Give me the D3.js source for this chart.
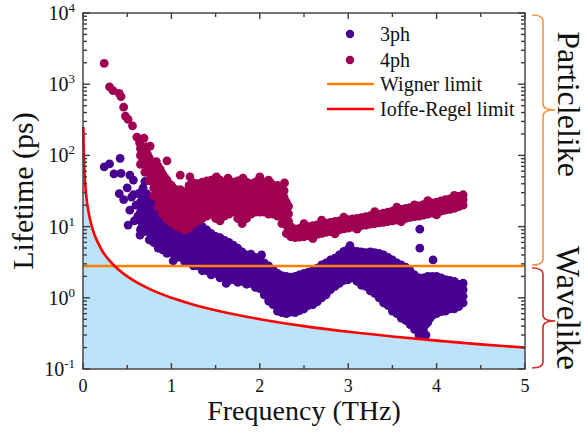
<!DOCTYPE html>
<html>
<head>
<meta charset="utf-8">
<script src="https://cdn.jsdelivr.net/npm/d3@7"></script>
<style>
  html, body { margin: 0; padding: 0; background: #fff; }
  svg { display: block; }
  text { font-family: "Liberation Serif", "Times New Roman", serif; fill: #111; }
</style>
</head>
<body>
<svg id="chart" width="587" height="445"></svg>
<script>
// ---- axis ticks ----
const freqTicks = [0, 1, 2, 3, 4, 5];
const lifetimeTicks = [0.1, 1, 10, 100, 1000, 10000];
const lifetimeExponents = ["-1", "0", "1", "2", "3", "4"];

// ---- limits ----
const wignerLimit = 2.8; // ps
// Ioffe-Regel limit, tau = 1/nu : [frequency THz, lifetime ps]
const ioffeRegel = [[0.004,250],[0.006,167],[0.008,125],[0.01,100],[0.015,67],[0.02,50],[0.03,33],
  [0.04,25],[0.05,20],[0.07,14.3],[0.1,10],[0.13,7.7],[0.17,5.9],[0.22,4.5],[0.3,3.33],[0.4,2.5],
  [0.5,2],[0.65,1.54],[0.8,1.25],[1,1],[1.25,0.8],[1.5,0.667],[2,0.5],[2.5,0.4],[3,0.333],
  [3.5,0.286],[4,0.25],[4.5,0.222],[5,0.2]];

// ---- three-phonon lifetimes: isolated modes [THz, ps] ----
const lifetime3phSparse = [[0.24,69],[0.30,76],[0.35,55],[0.42,91],[0.43,56],[0.53,53],[0.57,45],
  [0.41,29],[0.46,24],[0.53,17],[0.51,10.5],[0.66,9.5],[0.645,7.6],[0.70,43],[0.68,35],[0.57,28],
  [0.63,29],[0.72,29],[0.55,26],[0.83,5.8],[0.50,35],[0.60,20],[0.62,14],[0.58,12],
  [3.81,9.2],[3.81,5.0],[3.96,3.4],[1.02,3.3],[1.62,1.6],[2.02,4.0],[3.02,5.4],[3.88,0.3]];
// three-phonon lifetimes grouped by frequency [THz, [ps...]]
const lifetime3ph = [
  [0.65,[9,12,16,22,30]],[0.70,[8.5,11.5,15.5,21,27]],[0.75,[6.5,8.6,11.3,15,19.8,26]],
  [0.80,[6,8,10.8,14.5,19.5,23]],[0.85,[5,6.7,9,12.1,16.3,22]],[0.90,[4.7,6.3,8.4,11.3,15,19.5]],
  [0.95,[4.2,5.6,7.6,10.2,13.5,18]],[1.00,[4.3,5.8,7.7,10.3,13.5,16.5]],[1.05,[3.7,4.9,6.6,8.8,11.6,15]],
  [1.10,[3.7,4.9,6.4,8.4,11,13.8]],[1.15,[3.2,4.3,5.7,7.6,10,13]],[1.20,[3.2,4.2,5.6,7.4,9.6,12]],
  [1.25,[2.8,3.7,5,6.6,8.7,11.5]],[1.30,[2.8,3.7,4.9,6.4,8.4,10.8]],[1.35,[2.4,3.2,4.2,5.6,7.5,10]],
  [1.40,[2.4,3.1,4.1,5.4,7,9]],[1.45,[2.1,2.9,4.1,5.7,8]],[1.50,[2.2,3.1,4.2,5.6,7.3]],
  [1.55,[1.9,2.6,3.6,5.1,7]],[1.60,[2,2.8,3.8,5.1,6.4]],[1.65,[1.75,2.4,3.2,4.4,6]],
  [1.70,[1.8,2.4,3.2,4.2,5.5]],[1.75,[1.65,2.2,2.9,3.8,5]],[1.80,[1.7,2.3,3.2,4.4]],
  [1.85,[1.55,2.1,2.9,4]],[1.90,[1.6,2.2,3,4.1]],[1.95,[1.4,1.95,2.7,3.7]],[2.00,[1.35,1.9,2.6,3.5]],
  [2.05,[1.1,1.55,2.2,3.1]],[2.10,[0.9,1.2,1.6,2.1,2.8]],[2.15,[0.8,1.07,1.45,1.95,2.5]],
  [2.20,[0.65,0.88,1.2,1.6,2.2]],[2.25,[0.62,0.85,1.15,1.55,2.05]],[2.30,[0.6,0.81,1.1,1.48,2]],
  [2.35,[0.63,0.85,1.15,1.52,1.95]],[2.40,[0.62,0.83,1.12,1.5,2]],[2.45,[0.66,0.9,1.2,1.6,2.1]],
  [2.50,[0.7,0.93,1.25,1.65,2.2]],[2.55,[0.78,1.03,1.35,1.78,2.3]],[2.60,[0.8,1.05,1.4,1.85,2.4]],
  [2.65,[0.88,1.15,1.5,2,2.6]],[2.70,[1,1.3,1.7,2.2,2.9]],[2.75,[1.1,1.45,1.9,2.4,3.1]],
  [2.80,[1.3,1.8,2.5,3.4]],[2.85,[1.45,1.95,2.6,3.6]],[2.90,[1.6,2.2,2.9,4]],[2.95,[1.75,2.4,3.3,4.5]],
  [3.00,[1.8,2.5,3.5,4.8]],[3.05,[1.9,2.6,3.5,4.6]],[3.10,[1.7,2.35,3.2,4.5]],
  [3.15,[1.5,2,2.6,3.4,4.4]],[3.20,[1.45,1.95,2.6,3.4,4.3]],[3.25,[1.25,1.7,2.35,3.2,4.4]],
  [3.30,[1.15,1.6,2.2,3.1,4.3]],[3.35,[1,1.45,2.05,2.9,4.2]],[3.40,[0.85,1.15,1.6,2.15,2.9,4]],
  [3.45,[0.78,1.05,1.45,2,2.7,3.7]],[3.50,[0.65,0.9,1.26,1.76,2.45,3.4]],
  [3.55,[0.6,0.83,1.15,1.6,2.25,3.1]],[3.60,[0.52,0.73,1.03,1.46,2.06,2.9]],
  [3.65,[0.48,0.68,0.96,1.36,1.9,2.7]],[3.70,[0.42,0.6,0.84,1.2,1.7,2.4]],
  [3.75,[0.36,0.48,0.65,0.87,1.17,1.57,2.1]],[3.80,[0.3,0.41,0.56,0.76,1.03,1.4,1.9]],
  [3.85,[0.36,0.5,0.7,0.97,1.36,1.9]],[3.90,[0.45,0.6,0.82,1.1,1.48,2]],[3.95,[0.56,0.77,1.05,1.45,2]],
  [4.00,[0.6,0.81,1.1,1.48,2]],[4.05,[0.64,0.85,1.12,1.45,1.9]],[4.10,[0.65,0.84,1.08,1.4,1.8]],
  [4.15,[0.7,0.9,1.15,1.45,1.75]],[4.20,[0.7,0.88,1.1,1.37,1.7]],[4.25,[0.75,0.95,1.2,1.55]],
  [4.30,[0.85,1.05,1.3,1.6]],
  // modes lying between the columns above
  [0.675,[10.4,13.9,18.8,25.7]],[0.725,[9.9,13.4,18,23.8]],[0.775,[7.5,9.9,13,17.2,22.7]],
  [0.825,[6.9,9.3,12.5,16.8,21.2]],[0.875,[5.8,7.8,10.4,14,18.9]],[0.925,[5.4,7.3,9.7,13,17.1]],
  [0.975,[4.85,6.5,8.8,11.7,15.6]],[1.025,[5,6.7,8.9,11.8,14.9]],[1.075,[4.25,5.7,7.6,10.1,13.2]],
  [1.125,[4.25,5.6,7.3,9.6,12.3]],[1.175,[3.7,4.95,6.6,8.7,11.4]],[1.225,[3.65,4.85,6.4,8.4,10.7]],
  [1.275,[3.2,4.3,5.7,7.6,10]],[1.325,[3.2,4.25,5.6,7.3,9.5]],[1.375,[2.8,3.7,4.85,6.5,8.7]],
  [1.425,[2.7,3.55,4.7,6.1,7.9]],[1.475,[2.45,3.45,4.85,6.75]],[1.525,[2.6,3.6,4.85,6.4]],
  [1.575,[2.2,3.05,4.3,6]],[1.625,[2.35,3.25,4.4,5.7]],[1.675,[2.05,2.8,3.75,5.1]],
  [1.725,[2.1,2.8,3.65,4.8]],[1.775,[1.9,2.5,3.3,4.35]],[1.825,[2,2.7,3.75]],[1.875,[1.8,2.45,3.4]],
  [1.925,[1.85,2.55,3.5]],[1.975,[1.65,2.3,3.15]],[2.025,[1.6,2.2,3]],[2.075,[1.3,1.85,2.6]],
  [2.125,[1.04,1.4,1.85,2.4]],[2.175,[0.92,1.25,1.68,2.2]],[2.225,[0.76,1.03,1.39,1.88]],
  [2.275,[0.73,0.99,1.34,1.78]],[2.325,[0.7,0.94,1.28,1.72]],[2.375,[0.73,0.99,1.32,1.72]],
  [2.425,[0.72,0.96,1.3,1.73]],[2.475,[0.77,1.04,1.39,1.83]],[2.525,[0.81,1.08,1.44,1.9]],
  [2.575,[0.9,1.18,1.55,2.02]],[2.625,[0.92,1.21,1.61,2.1]],[2.675,[1,1.31,1.73,2.28]],
  [2.725,[1.14,1.49,1.93,2.53]],[2.775,[1.26,1.66,2.14,2.73]],[2.825,[1.53,2.12,2.92]],
  [2.875,[1.68,2.25,3.06]],[2.925,[1.88,2.53,3.4]],[2.975,[2.05,2.81,3.85]],[3.025,[2.12,2.96,4.1]],
  [3.075,[2.22,3.02,4.01]],[3.125,[2,2.74,3.8]],[3.175,[1.73,2.28,2.97,3.87]],
  [3.225,[1.68,2.25,2.97,3.82]],[3.275,[1.46,2,2.74,3.75]],[3.325,[1.36,1.88,2.61,3.65]],
  [3.375,[1.2,1.72,2.44,3.49]],[3.425,[0.99,1.36,1.85,2.5,3.4]],[3.475,[0.9,1.23,1.7,2.32,3.16]],
  [3.525,[0.76,1.06,1.49,2.08,2.89]],[3.575,[0.71,0.98,1.36,1.9,2.64]],
  [3.625,[0.62,0.87,1.23,1.73,2.44]],[3.675,[0.57,0.81,1.14,1.61,2.26]],
  [3.725,[0.5,0.71,1,1.43,2.02]],[3.775,[0.42,0.56,0.75,1.01,1.36,1.82]],
  [3.825,[0.35,0.48,0.65,0.88,1.2,1.63]],[3.875,[0.42,0.59,0.82,1.15,1.6]],
  [3.925,[0.52,0.7,0.95,1.28,1.72]],[3.975,[0.66,0.9,1.23,1.7]],[4.025,[0.7,0.94,1.28,1.72]],
  [4.075,[0.74,0.98,1.27,1.66]],[4.125,[0.74,0.95,1.23,1.59]],[4.175,[0.79,1.02,1.29,1.59]],
  [4.225,[0.78,0.98,1.23,1.53]],[4.275,[0.84,1.07,1.36]]
];

// ---- four-phonon lifetimes: isolated modes [THz, ps] ----
const lifetime4phSparse = [[0.24,1960],[0.30,920],[0.34,810],[0.41,745],[0.43,670],[0.46,475],
  [0.48,357],[0.51,320],[0.56,260],[0.61,180],[0.69,174],[0.72,132],[0.76,135],[0.83,82],[0.95,84],
  [0.64,150],[0.66,120],[0.70,110],[0.73,100],[1.10,53],[1.21,50],[1.38,40],[1.64,48],[1.81,48],
  [1.51,50],[2.00,50],[2.28,41],
  [2.5,11],[2.7,12.3],[2.95,13.6],[3.3,16.2],[3.55,18.8],[3.9,23.2],[4.2,27.5],
  [2.6,6.8],[3.1,9.2],[3.6,11.7],[4.0,14.6],[3.75,20.2],[2.85,7.9]];
// four-phonon lifetimes grouped by frequency [THz, [ps...]]
const lifetime4ph = [
  [0.65,[75,100,125]],[0.70,[58,75,95,118]],[0.75,[44,56,72,92]],[0.80,[27,35,46,60,80]],
  [0.85,[19,25,33,43,56,70]],[0.90,[15,19.5,25,33,43,55]],[0.95,[12.5,16,21,27,35,45]],
  [1.00,[11.2,14.5,18.5,24,31,38]],[1.05,[10.2,13,16.5,21,27,33]],[1.10,[9.6,12.3,15.7,20,26,33]],
  [1.15,[9,11.6,15,19.3,25,31]],[1.20,[9.5,12.5,16.5,22,29,38]],[1.25,[11,14.3,18.5,24,31,41]],
  [1.30,[12,15.5,20,26,33,40]],[1.35,[13,17,22,28,35,42]],[1.40,[14,18,23,29,36,44]],
  [1.45,[15,19,24,30,37,45]],[1.50,[13,17,22,28,37,48]],[1.55,[12,16,21,27,35,45]],
  [1.60,[14,18,23,29,35,42]],[1.65,[15,19,24,30,37,45]],[1.70,[16,20,25,31,36,42]],
  [1.75,[13,17,22,28,35,44]],[1.80,[11,15,20,26,35,46]],[1.85,[13,17,22,28,34,42]],
  [1.90,[15,19,24,29,35,40]],[1.95,[16,20,25,30,36,42]],[2.00,[16,20,25,31,39,48]],
  [2.05,[16,20,25,30,36,42]],[2.10,[15,19,24,30,37,45]],[2.15,[15,19,23,28,33,38]],
  [2.20,[14,18,22,27,32,38]],[2.25,[11,14,18,23,29,35]],[2.30,[8,10.5,13.5,17,22]],
  [2.35,[7.2,8.4,10]],[2.40,[7,8,9.3]],[2.45,[7.1,8.1,9.4]],[2.50,[7.2,8.3,9.7]],[2.55,[7.4,8.6,10]],
  [2.60,[7.6,8.8,10.3]],[2.65,[7.8,9.1,10.6]],[2.70,[8,9.4,11]],[2.75,[8.3,9.7,11.2]],
  [2.80,[8.5,10,11.5]],[2.85,[8.8,10.3,11.8]],[2.90,[9,10.5,12]],[2.95,[9.3,10.8,12.3]],
  [3.00,[9.5,11,12.5]],[3.05,[9.8,11.3,12.8]],[3.10,[10,11.5,13]],[3.15,[10.3,11.9,13.4]],
  [3.20,[10.5,12.1,13.8]],[3.25,[10.8,12.5,14.2]],[3.30,[11,12.8,14.5]],[3.35,[11.3,13.2,15]],
  [3.40,[11.5,13.5,15.5]],[3.45,[11.8,13.9,16]],[3.50,[12,14.3,16.5]],[3.55,[12.3,14.7,17]],
  [3.60,[12.5,15,17.5]],[3.65,[13,15.5,18]],[3.70,[13.5,16,18.5]],[3.75,[13.8,16.4,19]],
  [3.80,[14,16.8,19.5]],[3.85,[14.5,17.3,20.3]],[3.90,[15,17.8,21]],[3.95,[15.5,18.3,21.5]],
  [4.00,[16,19,22]],[4.05,[16.5,19.5,23]],[4.10,[17,20.3,24]],[4.15,[17.5,21,24.5]],
  [4.20,[18,21.5,25]],[4.25,[19,22.5,26.5]],[4.30,[20,24,28]],
  // modes lying between the columns above
  [0.675,[87,112]],[0.725,[66,84,106]],[0.775,[50,63,81]],[0.825,[31,40,52,69]],
  [0.875,[22,29,38,49,63]],[0.925,[17,22,29,38,49]],[0.975,[14.1,18.3,23.8,30.7,39.7]],
  [1.025,[12.7,16.4,21.1,27.3,34.3]],[1.075,[11.5,14.6,18.6,23.8,29.8]],
  [1.125,[10.9,13.9,17.7,22.8,29.3]],[1.175,[10.2,13.2,17,22,27.8]],[1.225,[10.9,14.4,19,25.3,33.2]],
  [1.275,[12.5,16.3,21.1,27.3,35.7]],[1.325,[13.6,17.6,22.8,29.3,36.3]],
  [1.375,[14.9,19.3,24.8,31.3,38.3]],[1.425,[15.9,20.3,25.8,32.3,39.8]],
  [1.475,[16.9,21.4,26.8,33.3,40.8]],[1.525,[14.9,19.3,24.8,32.2,42.1]],
  [1.575,[13.9,18.3,23.8,30.7,39.7]],[1.625,[15.9,20.3,25.8,31.9,38.3]],
  [1.675,[16.9,21.4,26.8,33.3,40.8]],[1.725,[17.9,22.4,27.8,33.4,38.9]],
  [1.775,[14.9,19.3,24.8,31.3,39.2]],[1.825,[12.8,17.3,22.8,30.2,40.1]],
  [1.875,[14.9,19.3,24.8,30.9,37.8]],[1.925,[16.9,21.4,26.4,31.9,37.4]],
  [1.975,[17.9,22.4,27.4,32.9,38.9]],[2.025,[17.9,22.4,27.8,34.8,43.3]],
  [2.075,[17.9,22.4,27.4,32.9,38.9]],[2.125,[16.9,21.4,26.8,33.3,40.8]],
  [2.175,[16.9,20.9,25.4,30.4,35.4]],[2.225,[15.9,19.9,24.4,29.4,34.9]],
  [2.275,[12.4,15.9,20.3,25.8,31.9]],[2.325,[9.2,11.9,15.1,19.3]]
];

const seriesNames = ["3ph", "4ph"];
const seriesColors = ["#480091", "#a00052"];

// ---- layout ----
const svg = d3.select("#chart");
const margin = { left: 83, right: 62, top: 13, bottom: 76 };
const W = 587, H = 445;
const x = d3.scaleLinear().domain([0, 5]).range([margin.left, W - margin.right]);
const y = d3.scaleLog().domain([0.1, 1e4]).range([H - margin.bottom, margin.top]);
const [x0, x1] = x.range();
const [yB, yT] = y.range();

// flatten grouped columns into points
const flat = cols => cols.flatMap(([f, ts]) => ts.map(t => [f, t]));
const pts3 = lifetime3phSparse.concat(flat(lifetime3ph));
const pts4 = lifetime4phSparse.concat(flat(lifetime4ph));

// wavelike region under the Ioffe-Regel limit
const area = d3.area()
  .x(d => x(d[0])).y0(yB).y1(d => y(d[1]))
  .curve(d3.curveMonotoneX);
svg.append("path").datum([[0, ioffeRegel[0][1]]].concat(ioffeRegel))
  .attr("d", area).attr("fill", "#bce3fa");

// scatter (4ph drawn over 3ph)
const dots = svg.append("g");
[pts3, pts4].forEach((pts, i) => {
  dots.append("g").selectAll("circle").data(pts).join("circle")
    .attr("cx", d => x(d[0])).attr("cy", d => y(d[1])).attr("r", 4.4)
    .attr("fill", seriesColors[i]);
});

// Wigner limit
svg.append("line")
  .attr("x1", x0).attr("x2", x1).attr("y1", y(wignerLimit)).attr("y2", y(wignerLimit))
  .attr("stroke", "#ff8000").attr("stroke-width", 2.6);

// Ioffe-Regel limit
svg.append("path").datum(ioffeRegel)
  .attr("d", d3.line().x(d => x(d[0])).y(d => y(d[1])).curve(d3.curveMonotoneX))
  .attr("fill", "none").attr("stroke", "#ff0000").attr("stroke-width", 2.6);

// frame and ticks (all inward, mirrored)
const axisColor = "#3c3c3c";
const frame = svg.append("g").attr("stroke", axisColor).attr("stroke-width", 1.4);
frame.append("rect").attr("x", x0).attr("y", yT).attr("width", x1 - x0).attr("height", yB - yT)
  .attr("fill", "none");
const xMinor = d3.range(0, 5.01, 0.5);
xMinor.forEach(v => {
  const len = Number.isInteger(v) ? 6 : 4;
  frame.append("line").attr("x1", x(v)).attr("x2", x(v)).attr("y1", yB).attr("y2", yB - len);
  frame.append("line").attr("x1", x(v)).attr("x2", x(v)).attr("y1", yT).attr("y2", yT + len);
});
const yMinor = [];
lifetimeTicks.slice(0, -1).forEach(d => { for (let k = 2; k <= 9; k++) yMinor.push(d * k); });
lifetimeTicks.forEach(v => {
  frame.append("line").attr("x1", x0).attr("x2", x0 + 7).attr("y1", y(v)).attr("y2", y(v));
  frame.append("line").attr("x1", x1).attr("x2", x1 - 7).attr("y1", y(v)).attr("y2", y(v));
});
yMinor.forEach(v => {
  frame.append("line").attr("x1", x0).attr("x2", x0 + 4).attr("y1", y(v)).attr("y2", y(v));
  frame.append("line").attr("x1", x1).attr("x2", x1 - 4).attr("y1", y(v)).attr("y2", y(v));
});

// tick labels
svg.append("g").selectAll("text").data(freqTicks).join("text")
  .attr("x", d => x(d)).attr("y", yB + 23).attr("text-anchor", "middle")
  .attr("font-size", 18).text(d => d);
const yl = svg.append("g").selectAll("text").data(lifetimeTicks).join("text")
  .attr("x", x0 - 8).attr("y", d => y(d) + 7).attr("text-anchor", "end").attr("font-size", 20);
yl.append("tspan").text("10");
yl.append("tspan").attr("dy", -8).attr("font-size", 13).text((d, i) => lifetimeExponents[i]);

// axis titles
svg.append("text").attr("x", (x0 + x1) / 2).attr("y", 420).attr("text-anchor", "middle")
  .attr("font-size", 28).text("Frequency (THz)");
svg.append("text").attr("transform", `translate(33,${(yT + yB) / 2}) rotate(-90)`)
  .attr("text-anchor", "middle").attr("font-size", 30).text("Lifetime (ps)");

// legend
const lg = svg.append("g").attr("font-size", 20);
const legendRows = [34, 60, 84, 109];
seriesNames.forEach((name, i) => {
  lg.append("circle").attr("cx", 350).attr("cy", legendRows[i]).attr("r", 4.2).attr("fill", seriesColors[i]);
  lg.append("text").attr("x", 380).attr("y", legendRows[i] + 7).text(name);
});
[["Wigner limit", "#ff8000"], ["Ioffe-Regel limit", "#ff0000"]].forEach(([label, c], i) => {
  const yy = legendRows[i + 2];
  lg.append("line").attr("x1", 327).attr("x2", 374).attr("y1", yy).attr("y2", yy)
    .attr("stroke", c).attr("stroke-width", 2.6);
  lg.append("text").attr("x", 380).attr("y", yy + 7).text(label);
});

// regime braces on the right
function brace(top, bottom, tipY, color) {
  const bx = x1 + 18, arm = 11, tip = 12, r = 6;
  const p = d3.path();
  p.moveTo(bx - arm, top);
  p.quadraticCurveTo(bx, top, bx, top + r);
  p.lineTo(bx, tipY - r);
  p.quadraticCurveTo(bx, tipY, bx + tip, tipY);
  p.quadraticCurveTo(bx, tipY, bx, tipY + r);
  p.lineTo(bx, bottom - r);
  p.quadraticCurveTo(bx, bottom, bx - arm, bottom);
  svg.append("path").attr("d", p.toString()).attr("fill", "none")
    .attr("stroke", color).attr("stroke-width", 1.6);
}
const yW = y(wignerLimit);
brace(yT + 2, yW - 1, yT + 97, "#f39545");
brace(yW + 2, yB - 1, yW + 55, "#d42a2a");
svg.append("text").attr("transform", `translate(558,104) rotate(90)`)
  .attr("text-anchor", "middle").attr("font-size", 32).text("Particlelike");
svg.append("text").attr("transform", `translate(557,308) rotate(90)`)
  .attr("text-anchor", "middle").attr("font-size", 33).text("Wavelike");
</script>
</body>
</html>
